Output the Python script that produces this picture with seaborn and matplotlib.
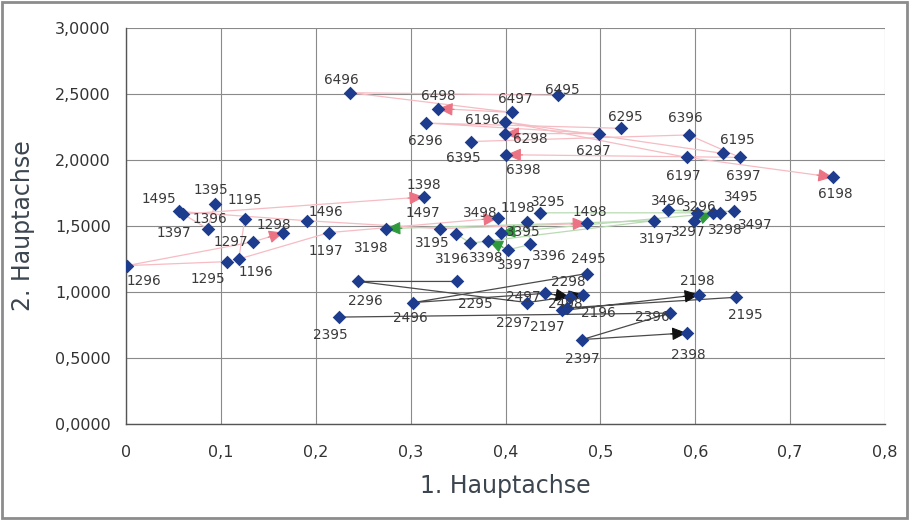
import numpy as np
import pandas as pd
import matplotlib
matplotlib.use("Agg")
import matplotlib.pyplot as plt
import seaborn as sns

# ---------------- data ----------------
codes = ["1195", "1196", "1197", "1198", "1295", "1296", "1297", "1298",
         "1395", "1396", "1397", "1398", "1495", "1496", "1497", "1498",
         "2195", "2196", "2197", "2198", "2295", "2296", "2297", "2298",
         "2395", "2396", "2397", "2398", "2495", "2496", "2497", "2498",
         "3195", "3196", "3197", "3198", "3295", "3296", "3297", "3298",
         "3395", "3396", "3397", "3398", "3495", "3496", "3497", "3498",
         "6195", "6196", "6197", "6198", "6295", "6296", "6297", "6298",
         "6395", "6396", "6397", "6398", "6495", "6496", "6497", "6498"]

axis1 = [0.125, 0.119, 0.214, 0.392, 0.106, 0.001, 0.134, 0.166,
         0.094, 0.086, 0.060, 0.314, 0.056, 0.191, 0.331, 0.486,
         0.643, 0.465, 0.460, 0.604, 0.349, 0.245, 0.423, 0.482,
         0.225, 0.573, 0.481, 0.591, 0.486, 0.303, 0.442, 0.468,
         0.348, 0.363, 0.556, 0.274, 0.436, 0.602, 0.599, 0.619,
         0.423, 0.426, 0.403, 0.382, 0.641, 0.571, 0.626, 0.395,
         0.629, 0.399, 0.591, 0.745, 0.522, 0.316, 0.499, 0.399,
         0.364, 0.593, 0.647, 0.401, 0.455, 0.236, 0.407, 0.329]

axis2 = [1.55, 1.25, 1.45, 1.56, 1.23, 1.20, 1.38, 1.45,
         1.67, 1.48, 1.59, 1.72, 1.61, 1.54, 1.48, 1.52,
         0.96, 0.88, 0.86, 0.98, 1.08, 1.08, 0.92, 0.98,
         0.81, 0.84, 0.64, 0.69, 1.14, 0.92, 0.99, 0.96,
         1.44, 1.37, 1.54, 1.48, 1.60, 1.60, 1.54, 1.60,
         1.53, 1.36, 1.32, 1.39, 1.61, 1.62, 1.60, 1.45,
         2.05, 2.29, 2.02, 1.87, 2.24, 2.28, 2.20, 2.20,
         2.14, 2.19, 2.02, 2.04, 2.49, 2.51, 2.36, 2.39]

x_ticks = [0, 0.1, 0.2, 0.3, 0.4, 0.5, 0.6, 0.7, 0.8]
x_ticklabels = ["0", "0,1", "0,2", "0,3", "0,4", "0,5", "0,6", "0,7", "0,8"]
y_ticks = [0, 0.5, 1.0, 1.5, 2.0, 2.5, 3.0]
y_ticklabels = ["0,0000", "0,5000", "1,0000", "1,5000", "2,0000", "2,5000", "3,0000"]

# label placement (pixel offsets from the point: dx right, dy up)
label_offsets = {
    '6496': (-9, 13), '6498': (0, 13), '6497': (3, 13), '6495': (5, 5), '6196': (-22, 2),
    '6296': (0, -18), '6298': (26, -5), '6395': (-8, -16), '6398': (17, -15), '6297': (-6, -17),
    '6295': (4, 11), '6396': (-3, 17), '6197': (-3, -19), '6195': (15, 13), '6397': (3, -19),
    '6198': (2, -17),
    '1495': (-20, 12), '1395': (-4, 14), '1396': (2, 10), '1397': (-9, -19), '1195': (0, 19),
    '1298': (-10, 8), '1297': (-22, 0), '1295': (-19, -17), '1196': (17, -13), '1296': (17, -15),
    '1496': (19, 9), '1197': (-3, -18), '1398': (0, 12), '1497': (-17, 16), '1198': (20, 10),
    '1498': (3, 11),
    '3198': (-15, -19), '3195': (-24, -9), '3196': (-18, -16), '3398': (-2, -17), '3498': (-20, 20),
    '3395': (-4, -10), '3295': (9, 11), '3396': (19, -12), '3397': (6, -15), '3496': (1, 9),
    '3296': (2, 6), '3495': (7, 14), '3497': (35, -12), '3197': (3, -18), '3297': (-6, -11),
    '3298': (12, -17),
    '2495': (1, 15), '2298': (-15, 13), '2198': (-2, 14), '2195': (9, -18), '2396': (-17, -4),
    '2398': (2, -22), '2397': (0, -19), '2196': (31, -5), '2197': (-15, -17), '2297': (-14, -20),
    '2497': (-22, -4), '2498': (-5, -7), '2296': (7, -20), '2295': (18, -23), '2496': (-3, -15),
    '2395': (-9, -18),
}

df = pd.DataFrame({"code": codes, "x": axis1, "y": axis2})
df["site"] = df["code"].str[:2]
df["group"] = df["code"].str[0]
df["year"] = df["code"].str[2:].astype(int)

line_colors = {"1": "#f6bcc3", "6": "#f6bcc3", "2": "#4a4a4a", "3": "#b9dbb2"}
arrow_colors = {"1": "#ec7384", "6": "#ec7384", "2": "#111111", "3": "#2f9a3c"}
marker_color = "#1e3c8e"

# ---------------- figure ----------------
sns.set_style("white")
plt.rcParams['font.family'] = ['DejaVu Sans']
fig = plt.figure(figsize=(9.09, 5.2), dpi=100)
ax = fig.add_axes([126 / 909, 1 - 424 / 520, (885 - 126) / 909, (424 - 28) / 520])

ax.set_xlim(0, 0.8)
ax.set_ylim(0, 3.0)

# trajectories per site
sns.lineplot(data=df, x="x", y="y", units="site", hue="group", estimator=None,
             sort=False, palette=line_colors, lw=0.9, legend=False, ax=ax, zorder=2)

# points
sns.scatterplot(data=df, x="x", y="y", marker="D", s=48, color=marker_color,
                edgecolor=marker_color, linewidth=0, ax=ax, zorder=4, legend=False)

fig.canvas.draw()
# arrowheads at the last year of each site
for site, g in df.groupby("site"):
    g = g.sort_values("year")
    p0 = ax.transData.transform((g["x"].iloc[-2], g["y"].iloc[-2]))
    p1 = ax.transData.transform((g["x"].iloc[-1], g["y"].iloc[-1]))
    d = p1 - p0
    u = d / np.hypot(*d)
    c = arrow_colors[g["group"].iloc[0]]
    ax.annotate("", xy=(g["x"].iloc[-1], g["y"].iloc[-1]),
                xytext=(-u[0] * 16, -u[1] * 16), textcoords="offset pixels",
                arrowprops=dict(arrowstyle="-|>,head_length=0.9,head_width=0.4",
                                color=c, lw=0.8, shrinkA=0, shrinkB=0),
                zorder=3)

# point labels
for _, r in df.iterrows():
    dx, dy = label_offsets.get(r["code"], (0, 12))
    ax.annotate(r["code"], (r["x"], r["y"]), xytext=(dx, dy), textcoords="offset pixels",
                ha="center", va="center", fontsize=9.8, color="#3a3a3a", zorder=5)

# grid and axes
ax.set_xticks(x_ticks)
ax.set_xticklabels(x_ticklabels)
ax.set_yticks(y_ticks)
ax.set_yticklabels(y_ticklabels)
ax.grid(True, color="#8a8a8a", lw=0.8)
ax.set_axisbelow(True)
for s in ["top", "right"]:
    ax.spines[s].set_visible(False)
for s in ["left", "bottom"]:
    ax.spines[s].set_color("#555555")
    ax.spines[s].set_linewidth(1.0)
ax.tick_params(axis="both", direction="out", length=5, width=0.8, color="#555555",
               labelsize=11.5, labelcolor="#333333", pad=6)
ax.tick_params(axis="x", pad=10)
for lab in ax.get_xticklabels() + ax.get_yticklabels():
    lab.set_family(["Liberation Sans Narrow", "DejaVu Sans"])

ax.set_xlabel("1. Hauptachse", fontsize=17, color="#3c4650", labelpad=10)
ax.set_ylabel("2. Hauptachse", fontsize=17, color="#3c4650", labelpad=14)

# outer frame
fig.patches.append(plt.Rectangle((0.002, 0.003), 0.996, 0.994, transform=fig.transFigure,
                                 fill=False, edgecolor="#8c8c8c", lw=2))

fig.savefig("out.png", dpi=100)
